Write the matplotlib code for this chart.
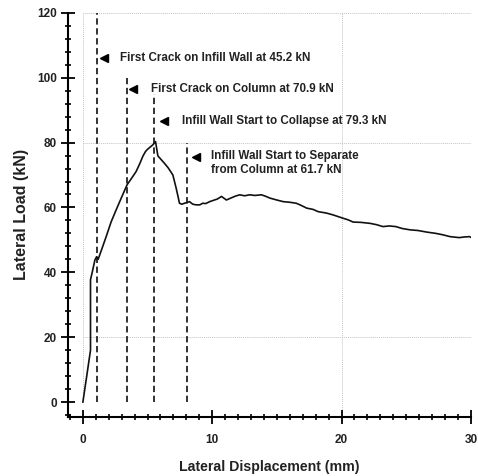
import matplotlib
matplotlib.use("Agg")
import matplotlib.pyplot as plt
from matplotlib.ticker import MultipleLocator

# ---- data ----
disp = [0.0, 0.29, 0.59, 0.59, 0.75, 0.93, 1.06, 1.18, 1.44, 1.8, 2.19, 2.6, 3.0, 3.42,
        3.8, 4.12, 4.4, 4.64, 4.85, 5.02, 5.2, 5.41, 5.62, 5.8, 6.0, 6.31, 6.6, 6.96,
        7.21, 7.35, 7.47, 7.65, 7.86, 8.05, 8.24, 8.5, 8.76, 9.04, 9.27, 9.5, 9.81,
        10.1, 10.4, 10.72, 11.1, 11.5, 11.8, 12.13, 12.5, 12.9, 13.3, 13.8, 14.1,
        14.45, 14.9, 15.48, 16.0, 16.5, 16.9, 17.3, 17.8, 18.2, 18.8, 19.35, 20.1,
        20.5, 20.9, 21.5, 22.2, 22.7, 23.2, 23.7, 24.2, 24.7, 25.3, 25.9, 26.6,
        27.3, 27.8, 28.4, 29.1, 29.5, 29.9, 30.1]
load = [0.0, 7.8, 16.0, 37.7, 40.5, 43.8, 44.8, 44.0, 46.9, 51.0, 55.6, 59.5, 63.2, 67.0,
        69.2, 71.1, 73.5, 75.8, 77.3, 78.0, 78.6, 79.3, 80.3, 75.9, 75.0, 73.6, 72.2, 70.0,
        66.0, 63.5, 61.3, 61.0, 61.3, 61.5, 61.8, 61.0, 60.8, 60.8, 61.3, 61.2, 61.8,
        62.2, 62.6, 63.4, 62.3, 63.0, 63.5, 63.9, 63.6, 63.9, 63.7, 63.9, 63.5,
        62.9, 62.4, 61.8, 61.6, 61.3, 60.6, 59.8, 59.4, 58.7, 58.3, 57.7, 56.7,
        56.2, 55.5, 55.4, 55.1, 54.7, 54.1, 54.3, 54.1, 53.5, 53.1, 52.9, 52.4,
        52.0, 51.6, 51.0, 50.7, 50.9, 51.0, 50.6]

event_x = [1.06, 3.45, 5.5, 8.06]
event_top = [120, 100, 95, 80]
marker_x = [1.62, 3.86, 6.3, 8.77]
marker_y = [106, 96.6, 86.7, 75.6]
text_x = [2.9, 5.25, 7.65, 9.9]
labels = ["First Crack on Infill Wall at 45.2 kN",
          "First Crack on Column at 70.9 kN",
          "Infill Wall Start to Collapse at 79.3 kN",
          "Infill Wall Start to Separate\nfrom Column at 61.7 kN"]

x_ticks = [0, 10, 20, 30]
y_ticks = [0, 20, 40, 60, 80, 100, 120]
x_grid = [0, 20, 30]
y_grid = [20, 80, 120]

plt.rcParams['font.family'] = ['Liberation Sans', 'DejaVu Sans']
plt.rcParams['font.weight'] = 'bold'

fig = plt.figure(figsize=(4.78, 4.76), dpi=100)
ax = fig.add_axes([0.142, 0.124, 0.843, 0.849])

ax.set_xlim(-1.16, 30)
ax.set_ylim(-4.6, 120)

for gx in x_grid:
    ax.plot([gx, gx], [0 if gx == 0 else -4.6, 120], color='#c4c4c4', lw=0.7,
            linestyle=(0, (1, 1)), zorder=1)
for gy in y_grid:
    ax.plot([0, 30], [gy, gy], color='#c4c4c4', lw=0.7, linestyle=(0, (1, 1)), zorder=1)

for ex, et in zip(event_x, event_top):
    ax.plot([ex, ex], [0, et], color='#222222', lw=1.3, linestyle=(0, (3.5, 2)), zorder=2)

ax.plot(disp, load, color='#111111', lw=1.2, zorder=3)

for mx, my, tx, lab in zip(marker_x, marker_y, text_x, labels):
    ax.plot(mx, my, marker='<', color='black', markersize=6, zorder=4)
    if '\n' in lab:
        ax.text(tx, my + 2.0, lab, fontsize=8.4, fontweight='bold', va='top',
                ha='left', color='#222222', linespacing=1.2)
    else:
        ax.text(tx, my, lab, fontsize=8.4, fontweight='bold', va='center',
                ha='left', color='#222222')

for s in ['top', 'right']:
    ax.spines[s].set_visible(False)
ax.spines['left'].set_linewidth(1.5)
ax.spines['bottom'].set_linewidth(1.5)

ax.set_xticks(x_ticks)
ax.set_yticks(y_ticks)
ax.xaxis.set_minor_locator(MultipleLocator(1))
ax.yaxis.set_minor_locator(MultipleLocator(4))
ax.tick_params(which='major', direction='inout', length=10, width=1.3, labelsize=8.5, pad=7)
ax.tick_params(which='minor', direction='inout', length=5, width=1.2)
ax.tick_params(axis='y', which='major', pad=3)
for lab in ax.get_xticklabels() + ax.get_yticklabels():
    lab.set_fontweight('bold')
    lab.set_color('#222222')

ax.set_xlabel('Lateral Displacement (mm)', fontsize=10.2, fontweight='bold', labelpad=10,
              color='#222222')
ax.set_ylabel('Lateral Load (kN)', fontsize=11.5, fontweight='bold', labelpad=6,
              color='#222222')

fig.savefig('out.png', dpi=100)
